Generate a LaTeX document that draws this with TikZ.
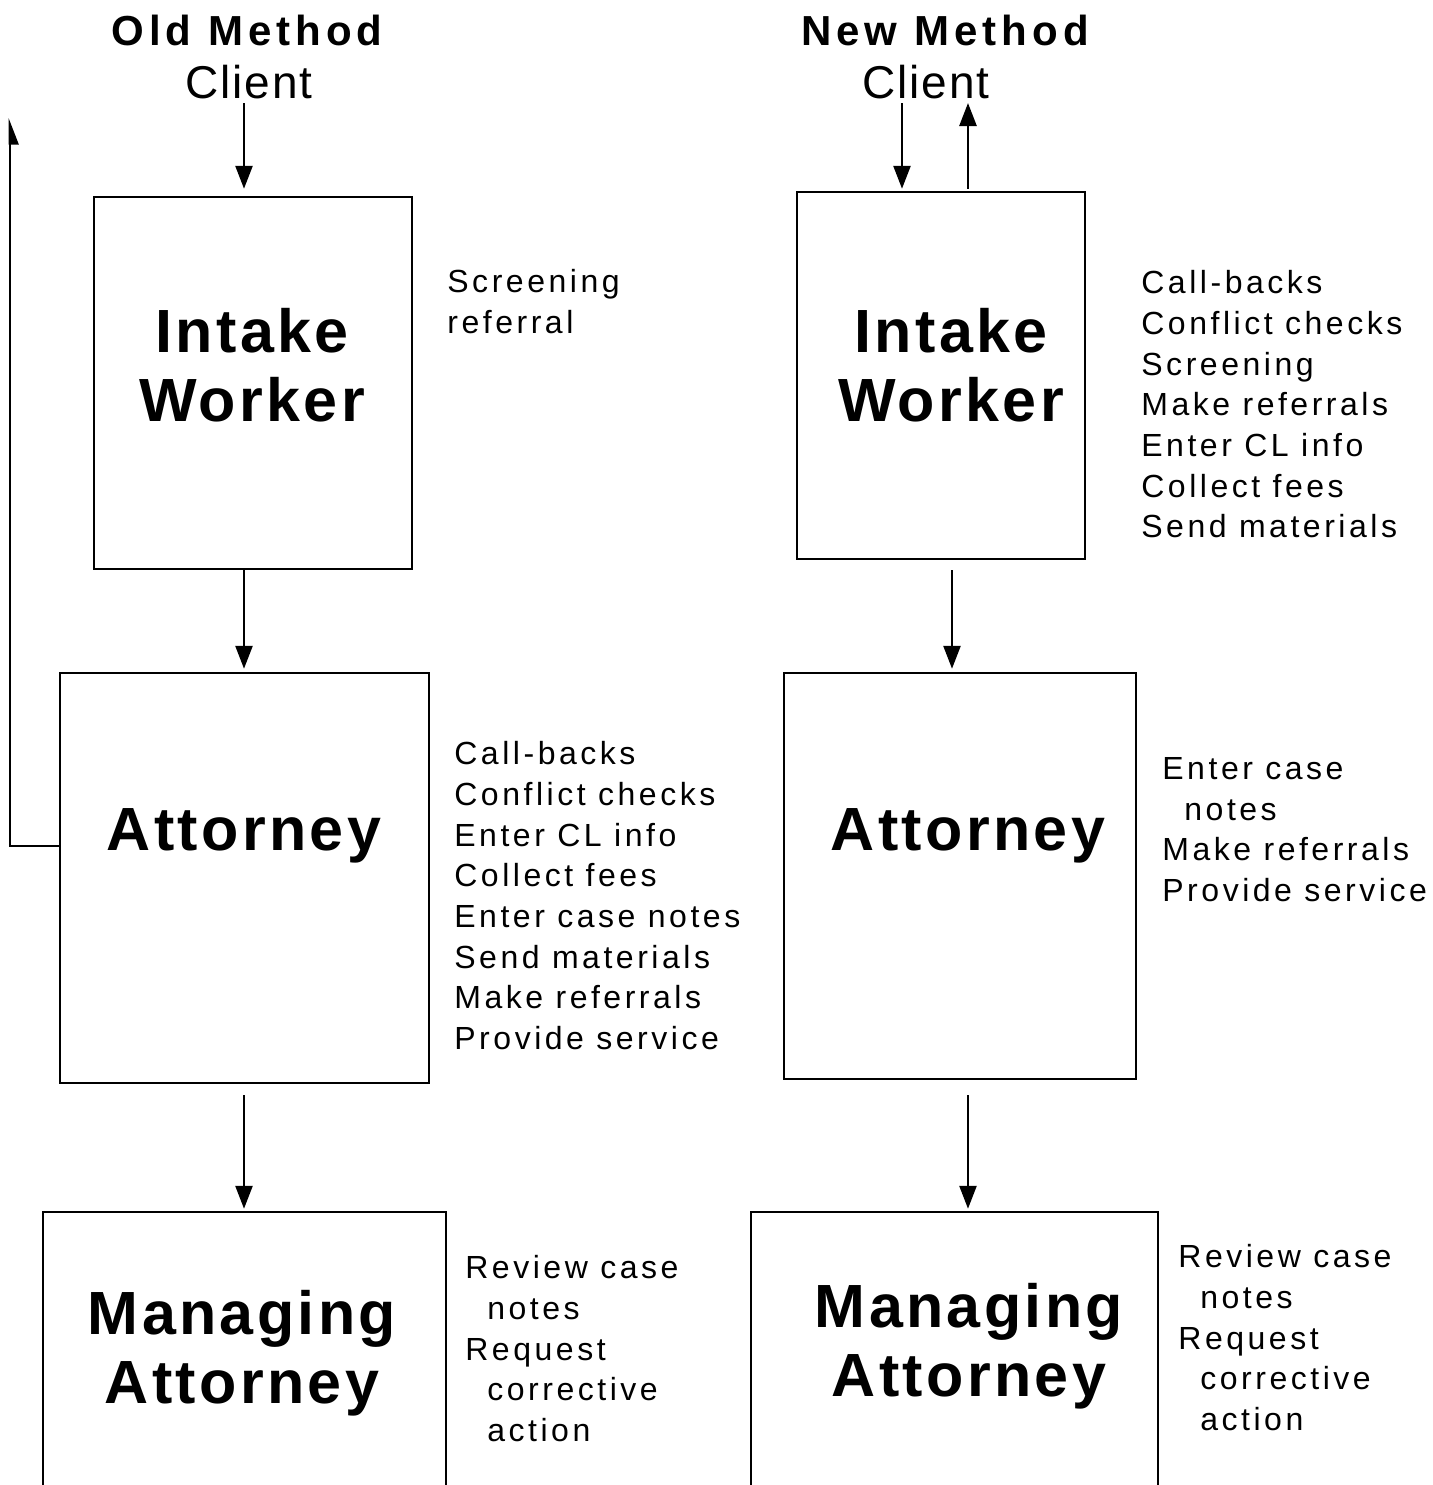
\documentclass[tikz,border=0pt]{standalone}
\usepackage{fontspec}
\setmainfont{Liberation Sans}
\newfontfamily\sidefont[LetterSpace=11]{Liberation Sans}
\newfontfamily\boxfont[LetterSpace=5.5]{Liberation Sans}
\newfontfamily\clientfont[LetterSpace=4]{Liberation Sans}
\newfontfamily\titlefont[LetterSpace=12]{Liberation Sans}
\usetikzlibrary{arrows.meta}
\begin{document}
\begin{tikzpicture}[x=0.5pt,y=-0.5pt,
 box/.style={draw, line width=1.25pt, inner sep=0pt},
 boxlabel/.style={anchor=north, inner sep=0pt, align=center, font=\boxfont\bfseries\fontsize{30.5}{34.5}\selectfont},
 side/.style={anchor=north west, inner sep=0pt, align=left, font=\sidefont\fontsize{16}{20.35}\selectfont},
 titletext/.style={anchor=north, inner sep=0pt, font=\titlefont\bfseries\fontsize{21}{25}\selectfont},
 clienttext/.style={anchor=north, inner sep=0pt, font=\clientfont\fontsize{23}{27}\selectfont},
 arr/.style={line width=1.3pt, -{Triangle[length=11.5pt,width=8.5pt]}},
 harr/.style={line width=1.3pt, -{Triangle[harpoon,swap,length=11.5pt,width=8.5pt]}},
]
\useasboundingbox (0,0) rectangle (1432,1485);
\clip (0,0) rectangle (1432,1485);

% titles
\node[titletext] (lT) at (247,15) {Old Method};
\node[titletext] (rT) at (945,15) {New Method};
\node[clienttext] (lC) at (249,65) {Client};
\node[clienttext] (rC) at (926,65) {Client};

% boxes
\node[box, minimum width=159pt, minimum height=186pt] (lIW) at (253,383) {};
\node[box, minimum width=184.5pt, minimum height=205pt] (lAT) at (244.5,878) {};
\node[box, minimum width=201.5pt, minimum height=149pt] (lMA) at (244.5,1361) {};
\node[box, minimum width=144pt, minimum height=183.5pt] (rIW) at (941,375.5) {};
\node[box, minimum width=176pt, minimum height=203pt] (rAT) at (960,876) {};
\node[box, minimum width=203.5pt, minimum height=149pt] (rMA) at (954.5,1361) {};

% box labels
\node[boxlabel] (lIWt) at (252,308) {Intake\\Worker};
\node[boxlabel] (lATt) at (244,808) {Attorney};
\node[boxlabel] (lMAt) at (242,1290) {Managing\\Attorney};
\node[boxlabel] (rIWt) at (951,308) {Intake\\Worker};
\node[boxlabel] (rATt) at (968,808) {Attorney};
\node[boxlabel] (rMAt) at (969,1283) {Managing\\Attorney};

% side lists
\node[side] (l1) at (447,269) {Screening\\referral};
\node[side] (l2) at (454,741) {Call-backs\\Conflict checks\\Enter CL info\\Collect fees\\Enter case notes\\Send materials\\Make referrals\\Provide service};
\node[side] (l3) at (465,1255) {Review case\\\hspace*{11pt}notes\\Request\\\hspace*{11pt}corrective\\\hspace*{11pt}action};
\node[side] (r1) at (1141,270) {Call-backs\\Conflict checks\\Screening\\Make referrals\\Enter CL info\\Collect fees\\Send materials};
\node[side] (r2) at (1162,757) {Enter case\\\hspace*{11pt}notes\\Make referrals\\Provide service};
\node[side] (r3) at (1178,1244) {Review case\\\hspace*{11pt}notes\\Request\\\hspace*{11pt}corrective\\\hspace*{11pt}action};

% connectors
\coordinate (lx) at (244,103);
\coordinate (rx1) at (902,103);
\coordinate (rx2) at (968,103);
\coordinate (rx3) at (952,103);
\coordinate (fbtop) at (10,118);

\draw[arr, shorten >=3.5pt] (lx) -- (lx |- lIW.north);
\draw[arr, shorten >=1.5pt] (lx |- lIW.south) -- (lx |- lAT.north);
\draw[arr, shorten <=5.5pt, shorten >=1pt] (lx |- lAT.south) -- (lx |- lMA.north);
\draw[harr] ([yshift=16pt]lAT.west) -| (fbtop);

\draw[arr, shorten >=1pt] (rx1) -- (rx1 |- rIW.north);
\draw[arr, shorten <=1pt] (rx2 |- rIW.north) -- (rx2);
\draw[arr, shorten <=5pt, shorten >=1.5pt] (rx3 |- rIW.south) -- (rx3 |- rAT.north);
\draw[arr, shorten <=7.5pt, shorten >=1pt] (rx2 |- rAT.south) -- (rx2 |- rMA.north);
\end{tikzpicture}
\end{document}
